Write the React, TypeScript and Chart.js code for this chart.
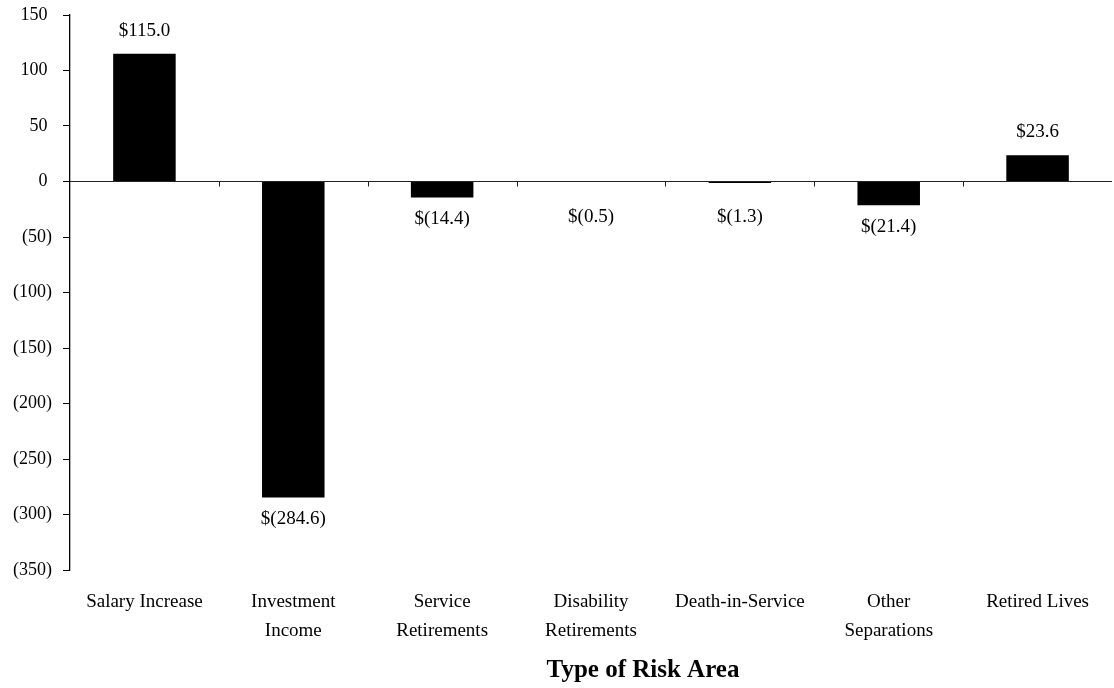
import React, { useEffect, useRef } from "react";
import { Chart, registerables } from "chart.js";

Chart.register(...registerables);

const categories: (string | string[])[] = [
  "Salary Increase",
  ["Investment", "Income"],
  ["Service", "Retirements"],
  ["Disability", "Retirements"],
  "Death-in-Service",
  ["Other", "Separations"],
  "Retired Lives",
];
const values: number[] = [115.0, -284.6, -14.4, -0.5, -1.3, -21.4, 23.6];
const yMin = -350;
const yMax = 150;
const yStep = 50;
const axisTitle = "Type of Risk Area";

const FONT = "'Liberation Serif', 'Times New Roman', serif";

const fmtValue = (v: number) =>
  v < 0 ? `$(${Math.abs(v).toFixed(1)})` : `$${v.toFixed(1)}`;
const fmtTick = (v: number) => (v < 0 ? `(${Math.abs(v)})` : `${v} `);

const decorPlugin = {
  id: "decor",
  afterDatasetsDraw(chart: any) {
    const { ctx, chartArea, scales } = chart;
    const y = scales.y;
    const x = scales.x;
    const zeroY = y.getPixelForValue(0);
    ctx.save();
    // zero line
    ctx.strokeStyle = "#222";
    ctx.lineWidth = 1.2;
    ctx.beginPath();
    ctx.moveTo(chartArea.left, zeroY);
    ctx.lineTo(chartArea.right, zeroY);
    ctx.stroke();
    // tick marks at category boundaries
    const n = categories.length;
    const w = (chartArea.right - chartArea.left) / n;
    ctx.lineWidth = 1;
    for (let i = 1; i < n; i++) {
      const px = Math.round(chartArea.left + w * i) + 0.5;
      ctx.beginPath();
      ctx.moveTo(px, zeroY);
      ctx.lineTo(px, zeroY + 5);
      ctx.stroke();
    }
    // value labels
    const meta = chart.getDatasetMeta(0);
    ctx.fillStyle = "#000";
    ctx.font = `19px ${FONT}`;
    ctx.textAlign = "center";
    ctx.textBaseline = "middle";
    meta.data.forEach((bar: any, i: number) => {
      const v = values[i];
      let ly: number;
      if (v >= 0) ly = bar.y - 23;
      else ly = Math.max(bar.y + 22, zeroY + 36);
      ctx.fillText(fmtValue(v), bar.x, ly);
    });
    // axis title
    ctx.font = `bold 25px ${FONT}`;
    const cx = (chartArea.left + chartArea.right) / 2 + 52;
    ctx.fillText(axisTitle, cx, x.bottom - 17);
    ctx.restore();
  },
};

export default function App() {
  const ref = useRef<HTMLCanvasElement | null>(null);
  useEffect(() => {
    if (!ref.current) return;
    const chart = new Chart(ref.current, {
      type: "bar",
      data: {
        labels: categories,
        datasets: [
          {
            data: values,
            backgroundColor: "#000",
            borderWidth: 0,
            categoryPercentage: 1,
            barPercentage: 0.42,
          },
        ],
      },
      options: {
        animation: false,
        responsive: true,
        maintainAspectRatio: false,
        layout: { padding: { top: 15, right: 2, left: 0, bottom: 0 } },
        plugins: {
          legend: { display: false },
          tooltip: { enabled: false },
          title: { display: false },
        },
        scales: {
          x: {
            grid: { display: false, drawTicks: false },
            border: { display: false },
            ticks: {
              color: "#000",
              font: { family: FONT, size: 19, lineHeight: 1.55 },
              padding: 17,
              maxRotation: 0,
              autoSkip: false,
            },
            afterFit: (s: any) => {
              s.height = 118;
            },
          },
          y: {
            min: yMin,
            max: yMax,
            grid: {
              display: true,
              drawOnChartArea: false,
              drawTicks: true,
              tickLength: 7,
              color: "#000",
            },
            border: { display: true, color: "#000", width: 1.3 },
            ticks: {
              stepSize: yStep,
              color: "#000",
              font: { family: FONT, size: 18 },
              padding: 11,
              callback: (v: any) => fmtTick(Number(v)),
            },
            afterFit: (s: any) => {
              s.width = 70;
              s.paddingTop = 0;
              s.paddingBottom = 0;
            },
          },
        },
      },
      plugins: [decorPlugin],
    });
    return () => chart.destroy();
  }, []);
  return (
    <div
      style={{
        position: "absolute",
        left: 0,
        top: 0,
        width: "1114px",
        height: "688px",
        background: "#fff",
      }}
    >
      <canvas ref={ref} />
    </div>
  );
}
